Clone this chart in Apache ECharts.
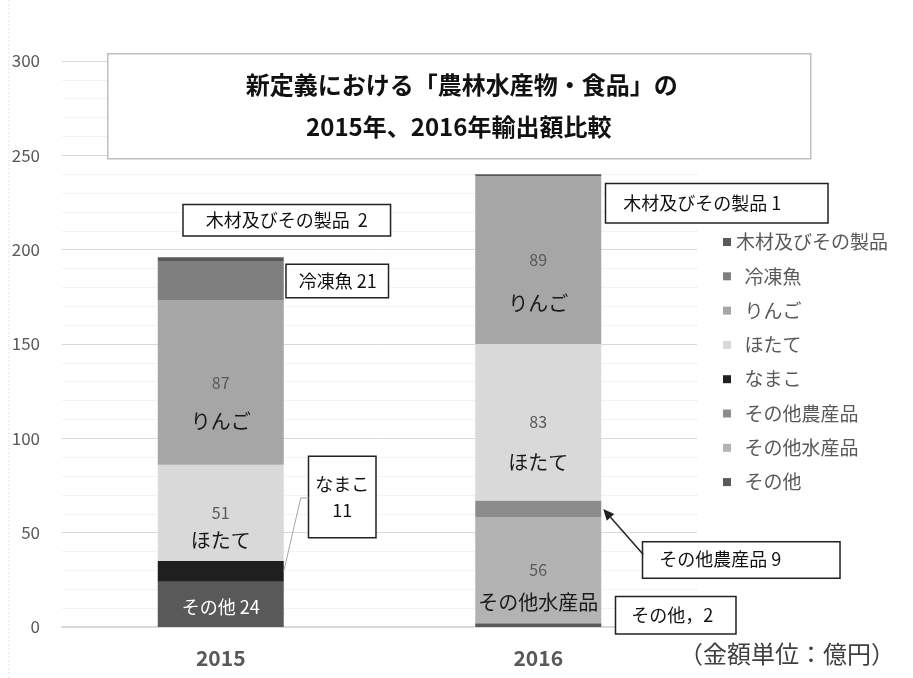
<!DOCTYPE html>
<html>
<head>
<meta charset="utf-8">
<script src="https://cdn.jsdelivr.net/npm/echarts@6/dist/echarts.min.js"></script>
<style>
  html, body { margin: 0; padding: 0; background: #fff; }
  #main { width: 913px; height: 678px; }
</style>
</head>
<body>
<div id="main"></div>
<script>
// 年度
var years = ['2015', '2016'];
// 積み上げ順（下から上）
var seriesNames = ['その他', 'その他水産品', 'その他農産品', 'なまこ', 'ほたて', 'りんご', '冷凍魚', '木材及びその製品'];
// 各品目の輸出額（億円）
var sonotaVals = [24, 2];
var suisanVals = [null, 56];
var nousanVals = [null, 9];
var namakoVals = [11, null];
var hotateVals = [51, 83];
var ringoVals = [87, 89];
var reitouVals = [21, null];
var mokuzaiVals = [2, 1];
var yTicks = [0, 50, 100, 150, 200, 250, 300];

var valueLists = [sonotaVals, suisanVals, nousanVals, namakoVals, hotateVals, ringoVals, reitouVals, mokuzaiVals];
var colors = ['#595959', '#b3b3b3', '#8c8c8c', '#1f1f1f', '#d9d9d9', '#a6a6a6', '#7f7f7f', '#595959'];

var FONT = '"Noto Sans CJK JP", "Noto Sans", sans-serif';

// ラベルの見せ方（白文字 / 値＋名前 / 吹き出し）
var labelPlan = {
  'その他': [{ kind: 'white' }, { kind: 'box', pos: [141, -26], sep: '，', pad: [7, 22, 7, 15] }],
  'その他水産品': [null, { kind: 'inner', gap: 32 }],
  'その他農産品': [null, { kind: 'box', pos: [168, 42], sep: ' ', pad: [6, 58, 7, 16] }],
  'なまこ': [{ kind: 'box', pos: [184.5, -104], sep: '\n', pad: [14, 6, 14, 6], center: true }, null],
  'ほたて': [{ kind: 'inner', gap: 28 }, { kind: 'inner', gap: 40 }],
  'りんご': [{ kind: 'inner', gap: 39 }, { kind: 'inner', gap: 43 }],
  '冷凍魚': [{ kind: 'box', pos: [129, 4], sep: ' ', pad: [5, 11, 5, 12] }, null],
  '木材及びその製品': [{ kind: 'box', pos: [26, -52], sep: '  ', pad: [4, 22, 4, 22] }, { kind: 'box', pos: [131, 10], sep: ' ', pad: [8, 46, 8, 17] }]
};

function makeLabel(name, i, v) {
  var p = labelPlan[name][i];
  if (!p || v == null) return { show: false };
  if (p.kind === 'white') {
    return {
      show: true, position: 'inside', offset: [0, 3],
      formatter: name + ' ' + v, color: '#fff', fontSize: 18, fontFamily: FONT
    };
  }
  if (p.kind === 'inner') {
    return {
      show: true, position: 'inside', offset: [0, p.gap / 2],
      formatter: '{v|' + v + '}\n{n|' + name + '}',
      rich: {
        v: { fontSize: 16, color: '#595959', lineHeight: p.gap, fontFamily: FONT },
        n: { fontSize: 20, color: '#1a1a1a', lineHeight: p.gap, fontFamily: FONT }
      }
    };
  }
  return {
    show: true, position: p.pos, align: p.center ? 'center' : 'left', verticalAlign: 'top',
    formatter: name + p.sep + v,
    color: '#111', fontSize: 18, lineHeight: p.center ? 26 : 22, fontFamily: FONT,
    backgroundColor: '#fff', borderColor: '#222', borderWidth: 1.5,
    padding: p.pad
  };
}

var series = seriesNames.map(function (name, k) {
  return {
    name: name,
    type: 'bar',
    stack: 'total',
    barWidth: 126,
    itemStyle: { color: colors[k] },
    emphasis: { disabled: true },
    data: valueLists[k].map(function (v, i) {
      return { value: v, label: makeLabel(name, i, v) };
    })
  };
});

var chart = echarts.init(document.getElementById('main'));
chart.setOption({
  animation: false,
  textStyle: { fontFamily: FONT },
  grid: { left: 62, right: 216, top: 61, bottom: 51 },
  legend: {
    orient: 'vertical', left: 718, top: 227,
    itemWidth: 8, itemHeight: 8, itemGap: 14.3,
    icon: 'rect',
    data: seriesNames.slice().reverse(),
    formatter: function (n) { return n === '木材及びその製品' ? n : '  ' + n; },
    textStyle: { fontSize: 19, lineHeight: 20, color: '#595959', fontFamily: FONT }
  },
  xAxis: {
    type: 'category', data: years,
    axisTick: { show: false },
    axisLine: { lineStyle: { color: '#d9d9d9', width: 2 } },
    axisLabel: { fontSize: 21, fontWeight: 'bold', color: '#595959', margin: 21, fontFamily: FONT }
  },
  yAxis: {
    type: 'value', min: yTicks[0], max: yTicks[yTicks.length - 1], interval: 50,
    axisLabel: { fontSize: 17, color: '#595959', margin: 22, fontFamily: FONT },
    axisLine: { show: false },
    splitLine: { lineStyle: { color: '#d9d9d9', width: 1 } },
    minorTick: { show: false, splitNumber: 5 },
    minorSplitLine: { show: true, lineStyle: { color: '#e6e6e6', type: 'dotted' } }
  },
  series: series
});

// 吹き出し線と矢印
var cat15 = chart.convertToPixel({ gridIndex: 0 }, ['2015', 0]);
var cat16 = chart.convertToPixel({ gridIndex: 0 }, ['2016', 0]);
var right15 = cat15[0] + 63;
var left16 = cat16[0] - 63, right16 = cat16[0] + 63;
var namakoMid = chart.convertToPixel({ gridIndex: 0 }, ['2015', sonotaVals[0] + namakoVals[0] / 2])[1];
var namakoTop = chart.convertToPixel({ gridIndex: 0 }, ['2015', sonotaVals[0] + namakoVals[0]])[1];
var nousanMid = chart.convertToPixel({ gridIndex: 0 }, ['2016', sonotaVals[1] + suisanVals[1] + nousanVals[1] / 2])[1];
var nousanTop = chart.convertToPixel({ gridIndex: 0 }, ['2016', sonotaVals[1] + suisanVals[1] + nousanVals[1]])[1];
var boxY = namakoTop - 104 + 41;
var arrowStart = [left16 + 168, nousanTop + 42 + 12];
var arrowEnd = [right16 + 2, nousanMid];
var ang = Math.atan2(arrowEnd[1] - arrowStart[1], arrowEnd[0] - arrowStart[0]);
var hl = 11, hw = 5;
var base = [arrowEnd[0] - hl * Math.cos(ang), arrowEnd[1] - hl * Math.sin(ang)];

chart.setOption({
  graphic: [
    {
      type: 'line', z: 1, silent: true,
      shape: { x1: 9, y1: 0, x2: 9, y2: 678 },
      style: { stroke: '#e3e3e3', lineWidth: 1, lineDash: [2, 2] }
    },
    {
      type: 'polyline', z: 50, silent: true,
      shape: { points: [[right15, namakoMid], [right15 + 17, boxY], [right15 + 25, boxY]] },
      style: { stroke: '#a6a6a6', lineWidth: 1, fill: null }
    },
    {
      type: 'line', z: 50, silent: true,
      shape: { x1: arrowStart[0], y1: arrowStart[1], x2: base[0], y2: base[1] },
      style: { stroke: '#222', lineWidth: 1.5 }
    },
    {
      type: 'polygon', z: 50, silent: true,
      shape: {
        points: [
          arrowEnd,
          [base[0] + hw * Math.sin(ang), base[1] - hw * Math.cos(ang)],
          [base[0] - hw * Math.sin(ang), base[1] + hw * Math.cos(ang)]
        ]
      },
      style: { fill: '#222' }
    },
    {
      type: 'group', left: 107, top: 53, z: 60,
      children: [
        {
          type: 'rect', shape: { x: 0, y: 0, width: 703, height: 105 },
          style: { fill: '#fff', stroke: '#bfbfbf', lineWidth: 1.5 }
        },
        {
          type: 'text', x: 354, y: 31,
          style: { text: '新定義における「農林水産物・食品」の', font: 'bold 24px ' + FONT, fill: '#111', align: 'center', verticalAlign: 'middle' }
        },
        {
          type: 'text', x: 351, y: 73,
          style: { text: '2015年、2016年輸出額比較', font: 'bold 24px ' + FONT, fill: '#111', align: 'center', verticalAlign: 'middle' }
        }
      ]
    },
    {
      type: 'text', right: 18, top: 642, z: 60,
      style: { text: '（金額単位：億円）', font: '24px ' + FONT, fill: '#404040' }
    }
  ]
});
</script>
</body>
</html>
